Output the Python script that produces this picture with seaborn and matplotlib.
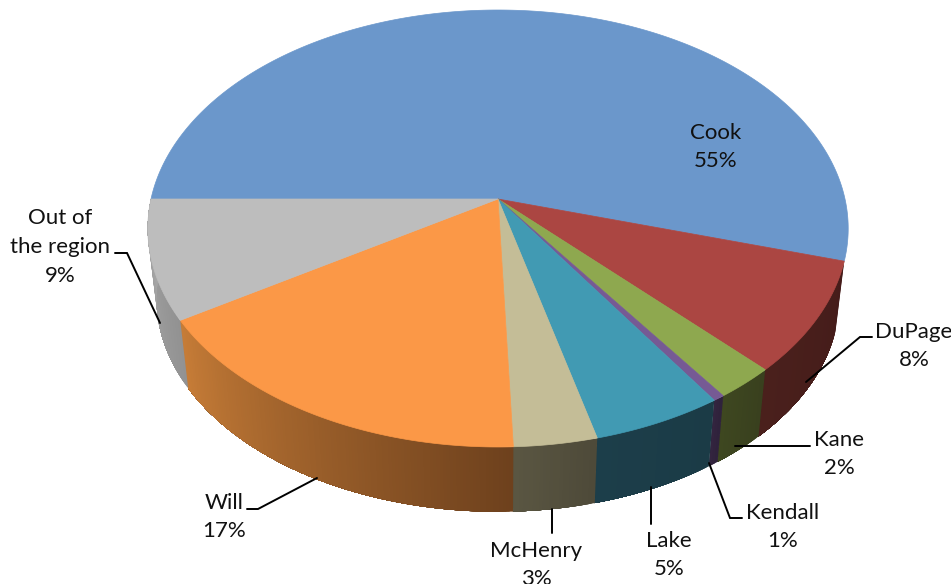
import numpy as np
import seaborn as sns
import matplotlib.pyplot as plt

# values, labels are what the chart prints
counties = ["Cook", "DuPage", "Kane", "Kendall", "Lake", "McHenry", "Will", "Out of\nthe region"]
shares = [54.5, 8.26, 2.44, 0.47, 5.33, 3.39, 16.8, 8.81]
percent_labels = ["55%", "8%", "2%", "1%", "5%", "3%", "17%", "9%"]

top_colors = ["#6b97cb", "#ab4642", "#8ea84f", "#765a94", "#419ab3", "#c4bd97", "#fb9847", "#bdbdbd"]
wall_left = ["#6b97cb", "#4a201c", "#3e4720", "#33243f", "#1c3e4a", "#5a5642", "#c67c37", "#a8a8a8"]
wall_right = ["#6b97cb", "#451c1a", "#39401e", "#2f223c", "#1b3b46", "#4e4a39", "#6e411d", "#929292"]

# label centres and leader lines, in pixels
label_pos = [(716, 147), (914, 346), (839, 454), (783, 527), (669, 555), (536, 565), (224, 517), (60, 247)]
leaders = [None,
           [(806, 382), (860, 337), (872, 337)],
           [(735, 446), (810, 446)],
           [(709, 463), (730, 518), (742, 518)],
           [(651, 487), (651, 524)],
           [(552, 509), (552, 533)],
           [(247, 509), (258, 509), (317, 478)],
           [(115, 253), (127, 253), (160, 323)]]

# perspective circle: far side smaller than near side
cx, cy = 498, 199
a, b, k = 347, 214.5, 0.135
wall_shrink, wall_cy = 0.975, 270


def rim(ang, shrink=1.0, y0=cy):
    u, v = np.cos(ang), np.sin(ang)
    d = 1 + k * v
    return cx + shrink * a * u / d, y0 - shrink * b * v / d


sns.set_theme(style="white")
plt.rcParams["font.family"] = ["Lato", "DejaVu Sans"]

fig = plt.figure(figsize=(9.51, 5.84), dpi=100)
ax = fig.add_axes([0, 0, 1, 1])
ax.set_xlim(0, 951)
ax.set_ylim(584, 0)
ax.axis("off")

# clockwise from 9 o'clock
edges = np.pi - np.radians(np.cumsum([0] + shares) * 3.6)

# side walls first, the top covers whatever sticks out behind it
for i in range(1, len(shares)):
    n = max(int(abs(edges[i] - edges[i + 1]) * 120), 2)
    ts = np.linspace(edges[i], edges[i + 1], n + 1)
    pal = sns.blend_palette([wall_left[i], wall_right[i]], n)
    pal = pal[::-1]  # walls run right to left here
    # each piece runs to the end of the wall so no seams show between them
    for j in range(n):
        x1, y1 = rim(ts[j:])
        x2, y2 = rim(ts[j:][::-1], wall_shrink, wall_cy)
        ax.fill(np.r_[x1, x2], np.r_[y1, y2], color=pal[j], lw=0, zorder=1)

for i in range(len(shares)):
    ts = np.linspace(edges[i], edges[i + 1], 300)
    x, y = rim(ts)
    ax.fill(np.r_[cx, x], np.r_[cy, y], color=top_colors[i], lw=0.5, zorder=2)

for i, name in enumerate(counties):
    ax.text(label_pos[i][0], label_pos[i][1], name + "\n" + percent_labels[i],
            ha="center", va="center", ma="center", fontsize=16, color="#111111",
            linespacing=1.55, zorder=4, clip_on=False)
    if leaders[i]:
        xs, ys = zip(*leaders[i])
        ax.plot(xs, ys, color="black", lw=1.4, zorder=3, solid_joinstyle="miter")

fig.savefig("out.png", dpi=100, facecolor="white")
